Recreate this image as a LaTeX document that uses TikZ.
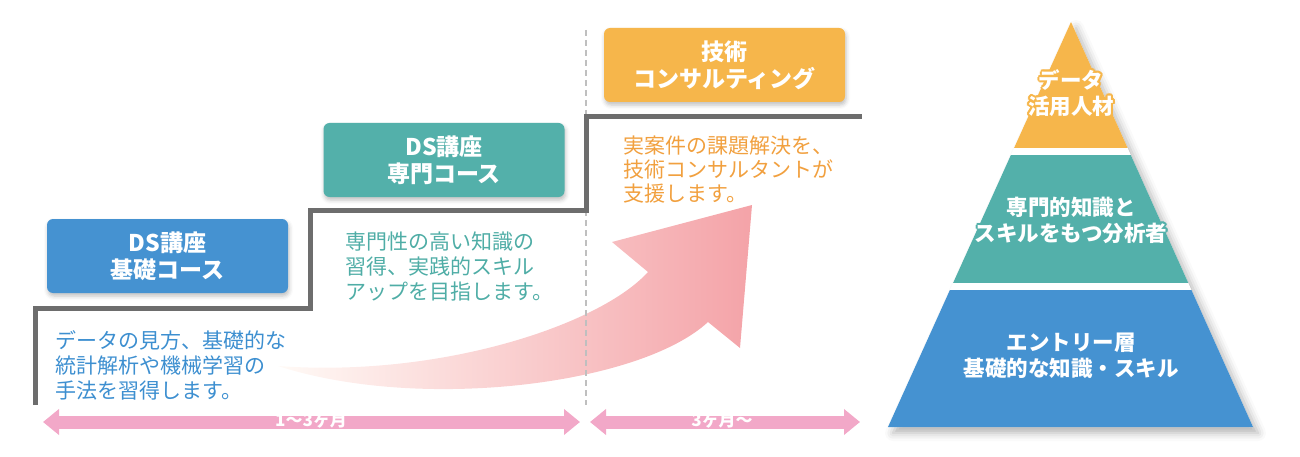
\documentclass[tikz,border=0pt]{standalone}
\usepackage{fontspec}
\newfontfamily\jp{Noto Sans CJK JP}
\usetikzlibrary{arrows.meta,shadows.blur}
\definecolor{cblue}{HTML}{4592D1}
\definecolor{cteal}{HTML}{53B0AA}
\definecolor{corange}{HTML}{F6B64B}
\definecolor{tblue}{HTML}{3D8FD0}
\definecolor{tteal}{HTML}{4FADA6}
\definecolor{torange}{HTML}{F1A03F}
\definecolor{cpink}{HTML}{F2A8C8}
\definecolor{cstair}{HTML}{6D6D6D}
\definecolor{arrL}{HTML}{FFFAF6}
\definecolor{arrM}{HTML}{F8D2C4}
\definecolor{arrR}{HTML}{F4A3A8}
\begin{document}
\begin{tikzpicture}[x=1pt,y=-1pt,
  headbox/.style={rounded corners=6pt, minimum width=241pt, minimum height=74pt, inner sep=0pt,
    align=center, text=white, font=\jp\bfseries\fontsize{23}{27}\selectfont,
    blur shadow={shadow xshift=1pt, shadow yshift=-3pt, shadow blur radius=4pt, shadow opacity=25}},
  desc/.style={anchor=west, align=left, inner sep=0pt, font=\jp\fontsize{21}{25}\selectfont},
  stair/.style={draw=cstair, line width=5pt},
  bar/.style={draw=cpink, line width=13pt, {Triangle[width=25pt,length=16pt]}-{Triangle[width=25pt,length=16pt]}},
  barlabel/.style={inner sep=0pt, text=white, font=\jp\bfseries\fontsize{17}{19}\selectfont},
  pyrtext/.style={align=center, inner sep=0pt, text=white, font=\jp\bfseries\fontsize{21.5}{26}\selectfont},
  guide/.style={draw=black!25, line width=1.5pt, dash pattern=on 6pt off 4pt}
]
\useasboundingbox (0,0) rectangle (1300,457);

% big curved arrow
\shade[left color=arrL, middle color=arrM, right color=arrR]
  (278,366) .. controls (440,378) and (600,325) .. (648,272)
  -- (612,242) -- (752,205) -- (740,348) -- (708,322)
  .. controls (640,385) and (420,412) .. (278,366) -- cycle;

% dashed guide
\coordinate (g1) at (586,30);
\coordinate (g2) at (586,405);
\draw[guide] (g1) -- (g2);

% staircase
\draw[stair] (35,405) -- (35,308) -- (310,308) -- (310,210) -- (586,210) -- (586,117) -- (862,117);

% heading boxes
\node[headbox, fill=cblue] (b1) at (167.5,256) {DS講座\\基礎コース};
\node[headbox, fill=cteal] (b2) at (444,160) {DS講座\\専門コース};
\node[headbox, fill=corange] (b3) at (724.5,65) {技術\\コンサルティング};

% descriptions
\node[desc, text=tblue] (d1) at (55,365) {データの見方、基礎的な\\統計解析や機械学習の\\手法を習得します。};
\node[desc, text=tteal] (d2) at (345,267) {専門性の高い知識の\\習得、実践的スキル\\アップを目指します。};
\node[desc, text=torange, font=\jp\fontsize{21}{24}\selectfont] (d3) at (623,170) {実案件の課題解決を、\\技術コンサルタントが\\支援します。};

% period bars
\coordinate (p1) at (43,422);
\coordinate (p2) at (580,422);
\coordinate (p3) at (590,422);
\coordinate (p4) at (860,422);
\draw[bar] (p1) -- (p2);
\draw[bar] (p3) -- (p4);
\node[barlabel] (l1) at (311,421) {1〜3ヶ月};
\node[barlabel] (l2) at (722,421) {3ヶ月〜};

% pyramid
\fill[white, blur shadow={shadow xshift=5pt, shadow yshift=-6pt, shadow blur radius=8pt, shadow opacity=30}]
  (1071,22) -- (1253,427) -- (888,427) -- cycle;
\begin{scope}
  \clip (1071,22) -- (1253,427) -- (888,427) -- cycle;
  \fill[corange] (880,0) rectangle (1260,148);
  \fill[cteal] (880,155) rectangle (1260,283);
  \fill[cblue] (880,290) rectangle (1260,430);
\end{scope}
\foreach \a [count=\i] in {0,30,...,330} {
  \node[pyrtext, text=corange] (t1h\i) at ([shift={(\a:1.8)}]1071,93) {データ\\活用人材};
  \node[pyrtext, text=cteal] (t2h\i) at ([shift={(\a:1.8)}]1071,220) {専門的知識と\\スキルをもつ分析者};
}
\node[pyrtext] (t1) at (1071,93) {データ\\活用人材};
\node[pyrtext] (t2) at (1071,220) {専門的知識と\\スキルをもつ分析者};
\node[pyrtext] (t3) at (1071,356) {エントリー層\\基礎的な知識・スキル};
\end{tikzpicture}
\end{document}
